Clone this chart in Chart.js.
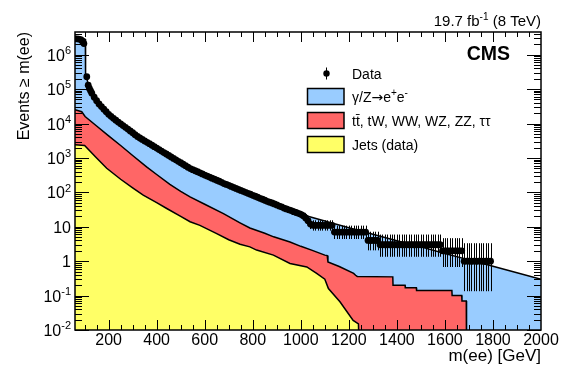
<!DOCTYPE html>
<html>
<head>
<meta charset="utf-8">
<script src="https://cdn.jsdelivr.net/npm/chart.js@4"></script>
<style>
  body { margin: 0; background: #fff; }
  #wrap { width: 581px; height: 371px; }
</style>
</head>
<body>
<div id="wrap"><canvas id="massPlot" width="581" height="371"></canvas></div>
<script>
// cumulative number of events with m(ee) above the given mass
const dataMass = [60, 68, 76, 84, 90, 97, 109, 115, 120, 125,
  130, 140, 150, 160, 170, 180, 190, 200, 210, 220, 230, 240, 250, 260, 270, 280, 290, 300,
  310, 320, 330, 340, 350, 360, 370, 380, 390, 400, 410, 420, 430, 440, 450, 460, 470, 480, 490, 500,
  510, 520, 530, 540, 550, 560, 570, 580, 590, 600, 610, 620, 630, 640, 650, 660, 670, 680, 690, 700,
  710, 720, 730, 740, 750, 760, 770, 780, 790, 800, 810, 820, 830, 840, 850, 860, 870, 880, 890, 900,
  910, 920, 930, 940, 950, 960, 970, 980, 990, 1000,
  1010, 1020, 1030, 1040, 1050, 1060, 1070, 1080, 1090, 1100, 1110, 1120, 1130,
  1140, 1150, 1160, 1170, 1180, 1190, 1200, 1210, 1220, 1230, 1240, 1250, 1260, 1270,
  1280, 1290, 1300, 1310, 1320,
  1330, 1340, 1350, 1360, 1370, 1380, 1390, 1400, 1410, 1420, 1430, 1440, 1450, 1460, 1470, 1480,
  1490, 1500, 1510, 1520, 1530, 1540, 1550, 1560, 1570, 1580,
  1590, 1600, 1610, 1620, 1630, 1640, 1650, 1660, 1670,
  1680, 1690, 1700, 1710, 1720, 1730, 1740, 1750, 1760, 1770, 1780, 1790];
const dataEvents = [2.9e6, 2.9e6, 2.85e6, 2.75e6, 2.5e6, 2.1e6, 2.3e5, 1.3e5, 1.05e5, 8.9e4,
  7.6e4, 5.8e4, 4.6e4, 3.7e4, 3.1e4, 2.6e4, 2.2e4, 1.85e4, 1.62e4, 1.42e4, 1.25e4, 1.1e4, 9800, 8700, 7750, 6900, 6100, 5400,
  4750, 4200, 3800, 3450, 3130, 2850, 2590, 2350, 2130, 1930, 1750, 1580, 1430, 1300, 1180, 1070, 970, 880, 800, 725,
  655, 595, 540, 490, 455, 425, 397, 370, 343, 318, 297, 278, 259, 242, 225, 210, 195, 180, 170, 160,
  149, 139, 130, 122, 114, 107, 100, 94, 88, 82, 77, 72, 67, 63, 59, 55, 52, 49, 46, 43,
  40, 38, 35, 33, 31, 29.5, 27.5, 26, 24.5, 23,
  21, 18, 15, 12, 11, 11, 11, 11, 11, 11, 11, 11, 11,
  7, 7, 7, 7, 7, 7, 7, 7, 7, 7, 7, 7, 7, 7,
  4, 4, 4, 4, 4,
  3, 3, 3, 3, 3, 3, 3, 3, 3, 3, 3, 3, 3, 3, 3, 3,
  3, 3, 3, 3, 3, 3, 3, 3, 3, 3,
  2, 2, 2, 2, 2, 2, 2, 2, 2,
  1, 1, 1, 1, 1, 1, 1, 1, 1, 1, 1, 1];

// stacked simulation: top edge of each layer
const dyMass = [60, 103, 104, 110, 120, 130, 140, 160, 180, 200, 250, 300, 350, 400, 450, 500, 550, 600, 650,
  700, 750, 800, 850, 900, 950, 1000, 1100, 1200, 1300, 1400, 1500, 1600, 1700, 1800, 1900, 2000];
const dyStack = [2.95e6, 2.8e6, 2.6e5, 1.9e5, 1.05e5, 7.6e4, 5.8e4, 3.7e4, 2.6e4, 1.85e4, 9700, 5400, 3100, 1930, 1200, 725, 455, 318, 225,
  160, 115, 82, 59, 43, 31, 23, 14.8, 9.4, 6.1, 3.9, 2.6, 1.67, 1.09, 0.71, 0.46, 0.30];

const topMass = [60, 88, 102, 150, 200, 250, 300, 358, 400, 455, 500, 539, 600, 678, 747, 788, 850, 887, 955, 1000,
  1045, 1100, 1110, 1113, 1160, 1220, 1228, 1235, 1383, 1384, 1434, 1435, 1481, 1482, 1629, 1630, 1670, 1671, 1689, 1690];
const topStack = [2.5e4, 2.2e4, 1.6e4, 8500, 4400, 2300, 1180, 550, 330, 170, 107, 74, 45, 24, 13, 9.2, 6.5, 5.1, 3.6, 2.7,
  2.1, 1.5, 1.45, 0.95, 0.7, 0.44, 0.39, 0.36, 0.35, 0.2, 0.2, 0.17, 0.17, 0.14, 0.14, 0.1, 0.1, 0.07, 0.07, 0.001];

const jetMass = [60, 100, 150, 192, 250, 300, 344, 400, 442, 500, 539, 580, 650, 700, 747, 788, 816, 886, 955,
  1025, 1066, 1100, 1115, 1163, 1218, 1240, 1245];
const jetStack = [2400, 2300, 1000, 500, 240, 135, 83, 50, 34, 20, 14, 11, 6.3, 4.2, 3.1, 2.6, 2.1, 1.5, 0.86,
  0.68, 0.44, 0.3, 0.16, 0.066, 0.019, 0.015, 0.001];

const xTicks = [200, 400, 600, 800, 1000, 1200, 1400, 1600, 1800, 2000];
const yDecades = [-2, -1, 0, 1, 2, 3, 4, 5, 6];

const FONT = '"Liberation Sans", Arial, Helvetica, sans-serif';
Chart.defaults.font.family = FONT;
Chart.defaults.color = '#000';

function pts(xs, ys) {
  return xs.map((m, i) => ({ x: m, y: ys[i] }));
}

// text with superscript pieces: [text, isSup, fontFamily]
function richText(ctx, parts, x, y, size, align) {
  const supSize = Math.round(size * 0.68);
  const fontOf = p => (p[1] ? supSize : size) + 'px ' + (p[2] || FONT);
  let w = 0;
  for (const p of parts) {
    ctx.font = fontOf(p);
    w += ctx.measureText(p[0]).width;
  }
  let cx = align === 'right' ? x - w : x;
  ctx.textAlign = 'left';
  ctx.textBaseline = 'alphabetic';
  for (const p of parts) {
    ctx.font = fontOf(p);
    ctx.fillText(p[0], cx, p[1] ? y - size * 0.42 : y);
    cx += ctx.measureText(p[0]).width;
  }
}

const rootStyle = {
  id: 'rootStyle',
  beforeDatasetDraw(chart, args) {
    if (args.index !== 0) return;
    // poisson error bars on the data
    const { ctx, chartArea: a, scales: { x, y } } = chart;
    ctx.save();
    ctx.beginPath();
    ctx.rect(a.left, a.top, a.width, a.height);
    ctx.clip();
    ctx.strokeStyle = '#000';
    ctx.lineWidth = 1;
    dataMass.forEach((m, i) => {
      const n = dataEvents[i];
      const lo = Math.max(n - Math.sqrt(n - 0.25), 1e-3);
      const hi = n + Math.sqrt(n + 0.75) + 1;
      const px = Math.round(x.getPixelForValue(m)) + 0.5;
      ctx.beginPath();
      ctx.moveTo(px, y.getPixelForValue(lo));
      ctx.lineTo(px, y.getPixelForValue(hi));
      ctx.stroke();
    });
    ctx.restore();
  },
  afterDraw(chart) {
    const { ctx, chartArea: a, scales: { x, y } } = chart;
    ctx.save();
    ctx.strokeStyle = '#000';
    ctx.fillStyle = '#000';
    ctx.lineWidth = 1;
    const seg = (x1, y1, x2, y2) => { ctx.beginPath(); ctx.moveTo(x1, y1); ctx.lineTo(x2, y2); ctx.stroke(); };

    // x ticks, inside, bottom and top
    for (let m = 100; m <= 1950; m += 50) {
      const px = Math.round(x.getPixelForValue(m)) + 0.5;
      const len = m % 200 === 0 ? 10 : 5;
      seg(px, a.bottom, px, a.bottom - len);
      seg(px, a.top, px, a.top + len);
    }
    // y ticks, inside, left and right
    for (const e of yDecades) {
      for (let k = 1; k <= 9; k++) {
        const v = k * Math.pow(10, e);
        if (v > y.max) break;
        const py = Math.round(y.getPixelForValue(v)) + 0.5;
        const len = k === 1 ? 14 : 7;
        seg(a.left, py, a.left + len, py);
        seg(a.right, py, a.right - len, py);
      }
    }
    ctx.lineWidth = 1.5;
    ctx.strokeRect(a.left, a.top, a.right - a.left, a.bottom - a.top);

    // y tick labels with exponents
    for (const e of yDecades) {
      const py = y.getPixelForValue(Math.pow(10, e));
      let parts;
      if (e === 0) parts = [['1']];
      else if (e === 1) parts = [['10']];
      else parts = [['10'], [String(e), true]];
      richText(ctx, parts, 71, py + 6, 16, 'right');
    }

    // header texts
    richText(ctx, [['19.7 fb'], ['-1', true], [' (8 TeV)']], 541, 26, 15, 'right');
    ctx.font = 'bold 19.5px ' + FONT;
    ctx.textAlign = 'right';
    ctx.fillText('CMS', 510, 60);

    // legend
    ctx.lineWidth = 1;
    seg(326.5, 67.5, 326.5, 79.5);
    ctx.beginPath();
    ctx.arc(326.5, 73.5, 3.2, 0, Math.PI * 2);
    ctx.fill();
    const boxes = [
      ['#99ccff', 88.5, [['γ/Z'], ['→', false, '"DejaVu Sans", sans-serif'], ['e'], ['+', true], ['e'], ['-', true]]],
      ['#ff6666', 112.5, [['tt̄, tW, WW, WZ, ZZ, ττ']]],
      ['#ffff66', 136.5, [['Jets (data)']]]
    ];
    richText(ctx, [['Data']], 352, 78.5, 14, 'left');
    ctx.lineWidth = 1.5;
    for (const [col, top, label] of boxes) {
      ctx.fillStyle = col;
      ctx.fillRect(307.5, top, 36.5, 16);
      ctx.strokeRect(307.5, top, 36.5, 16);
      ctx.fillStyle = '#000';
      richText(ctx, label, 352, top + 13, 14, 'left');
    }
    ctx.restore();
  }
};

const layer = (label, xs, ys, colour) => ({
  label: label,
  data: pts(xs, ys),
  borderColor: '#000',
  borderWidth: 1.5,
  backgroundColor: colour,
  fill: 'start',
  pointRadius: 0,
  tension: 0
});

const massChart = new Chart(document.getElementById('massPlot'), {
  type: 'line',
  data: {
    datasets: [
      {
        label: 'Data',
        data: pts(dataMass, dataEvents),
        showLine: false,
        pointRadius: 3.4,
        pointBorderWidth: 0,
        pointBackgroundColor: '#000',
        borderColor: '#000'
      },
      layer('Jets (data)', jetMass, jetStack, '#ffff66'),
      layer('tt̄, tW, WW, WZ, ZZ, ττ', topMass, topStack, '#ff6666'),
      layer('γ/Z→ee', dyMass, dyStack, '#99ccff')
    ]
  },
  options: {
    responsive: false,
    animation: false,
    devicePixelRatio: 1,
    layout: { padding: { left: 0, right: 40, top: 32, bottom: 0 } },
    plugins: { legend: { display: false }, tooltip: { enabled: false } },
    scales: {
      x: {
        type: 'linear',
        min: 60,
        max: 2000,
        grid: { display: false, drawTicks: false },
        border: { display: false },
        afterBuildTicks: s => { s.ticks = xTicks.map(v => ({ value: v })); },
        afterFit: s => { s.height = 41; },
        ticks: { font: { size: 16 }, padding: 1, maxRotation: 0, autoSkip: false, callback: v => String(v) },
        title: { display: true, text: 'm(ee) [GeV]', align: 'end', font: { size: 17 }, padding: { top: 0, bottom: 4 } }
      },
      y: {
        type: 'logarithmic',
        min: 0.01,
        max: 4.57e6,
        grid: { display: false, drawTicks: false },
        border: { display: false },
        ticks: { display: false },
        afterFit: s => { s.width = 75; },
        title: { display: true, text: 'Events ≥ m(ee)', align: 'end', font: { size: 16 }, padding: { top: 15, bottom: 0 } }
      }
    }
  },
  plugins: [rootStyle]
});
</script>
</body>
</html>
